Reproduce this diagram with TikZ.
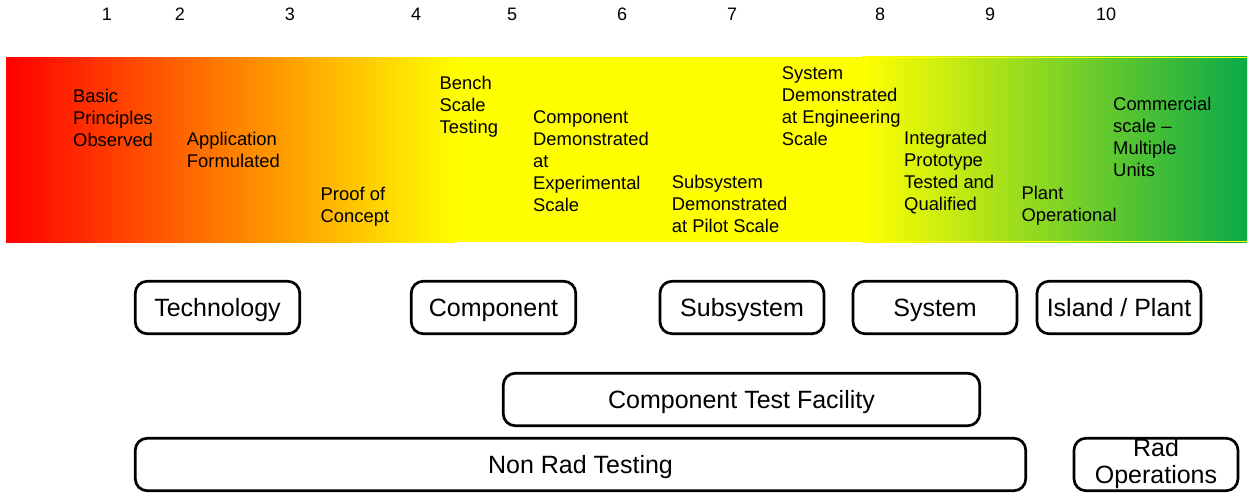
\documentclass[tikz,border=0pt]{standalone}
\usepackage{fontspec}
\setmainfont{Liberation Sans}
\definecolor{trlred}{RGB}{255,0,0}
\definecolor{trlyellow}{RGB}{255,255,0}
\definecolor{trlgreen}{RGB}{10,170,72}
\newcommand{\firstline}{\rule{0pt}{14pt}}
\begin{document}
\begin{tikzpicture}[x=1pt,y=-1pt,
  trlnum/.style={font=\fontsize{18}{21}\selectfont, anchor=base, inner sep=0pt},
  stage/.style={font=\fontsize{18.4}{22}\selectfont, align=left, anchor=north west, inner sep=0pt},
  level/.style={draw=black, line width=2.7pt, rounded corners=12pt,
    minimum height=52.5pt, font=\fontsize{25}{29}\selectfont,
    text height=17.9pt, text depth=0pt, inner sep=0pt},
]
\useasboundingbox (0,0) rectangle (1249,495);

% readiness level numbers
\node[trlnum] (n1)  at (107,21)  {1};
\node[trlnum] (n2)  at (180,21)  {2};
\node[trlnum] (n3)  at (290,21)  {3};
\node[trlnum] (n4)  at (416,21)  {4};
\node[trlnum] (n5)  at (512,21)  {5};
\node[trlnum] (n6)  at (622,21)  {6};
\node[trlnum] (n7)  at (732,21)  {7};
\node[trlnum] (n8)  at (880,21)  {8};
\node[trlnum] (n9)  at (990,21)  {9};
\node[trlnum] (n10) at (1106,21) {10};

% colour band: red to yellow, yellow, yellow to green
\fill[left color=trlred, right color=trlyellow] (6,58) rectangle (456,242);
\fill[trlyellow] (456,57) rectangle (862.5,242);
\fill[left color=trlyellow, right color=trlgreen] (862,57) rectangle (1247,242);
\draw[trlyellow, line width=1.2pt] (456.6,57.6) rectangle (1247.4,241.6);

% stage descriptions
\node[stage] (basic)   at (73,88.7)   {\firstline Basic\\Principles\\Observed};
\node[stage] (appl)    at (186.7,131) {\firstline Application\\Formulated};
\node[stage] (proof)   at (320.5,186) {\firstline Proof of\\Concept};
\node[stage] (bench)   at (439.5,75.5){\firstline Bench\\Scale\\Testing};
\node[stage] (compdem) at (533,109.3) {\firstline Component\\Demonstrated\\at\\Experimental\\Scale};
\node[stage] (subdem)  at (671.7,174.3){\firstline Subsystem\\Demonstrated\\at Pilot Scale};
\node[stage] (sysdem)  at (781.7,65)  {\firstline System\\Demonstrated\\at Engineering\\Scale};
\node[stage] (integ)   at (904,130.3) {\firstline Integrated\\Prototype\\Tested and\\Qualified};
\node[stage] (plant)   at (1021.3,185.3){\firstline Plant\\Operational};
\node[stage] (comm)    at (1113,96)   {\firstline Commercial\\scale --\\Multiple\\Units};

% integration levels
\node[level, minimum width=164.5pt] (tech)   at (217.5,307.5) {Technology};
\node[level, minimum width=164.5pt] (comp)   at (493.5,307.5) {Component};
\node[level, minimum width=164pt]   (subsys) at (742,307.5)   {Subsystem};
\node[level, minimum width=164pt]   (sys)    at (935,307.5)   {System};
\node[level, minimum width=164pt]   (island) at (1119,307.5)  {Island / Plant};

% test facilities
\node[level, minimum width=476.5pt] (ctf)    at (741.5,399.5) {Component Test Facility};
\node[level, minimum width=890.5pt] (nonrad) at (580.5,464.5) {Non Rad Testing};
\node[level, minimum width=164pt]   (rad)    at (1156,464.5)  {};
\node[font=\fontsize{25}{27}\selectfont, align=center, anchor=north, inner sep=0pt]
  (radtxt) at (1156,437.5) {\rule{0pt}{18.5pt}Rad\\Operations};
\end{tikzpicture}
\end{document}
